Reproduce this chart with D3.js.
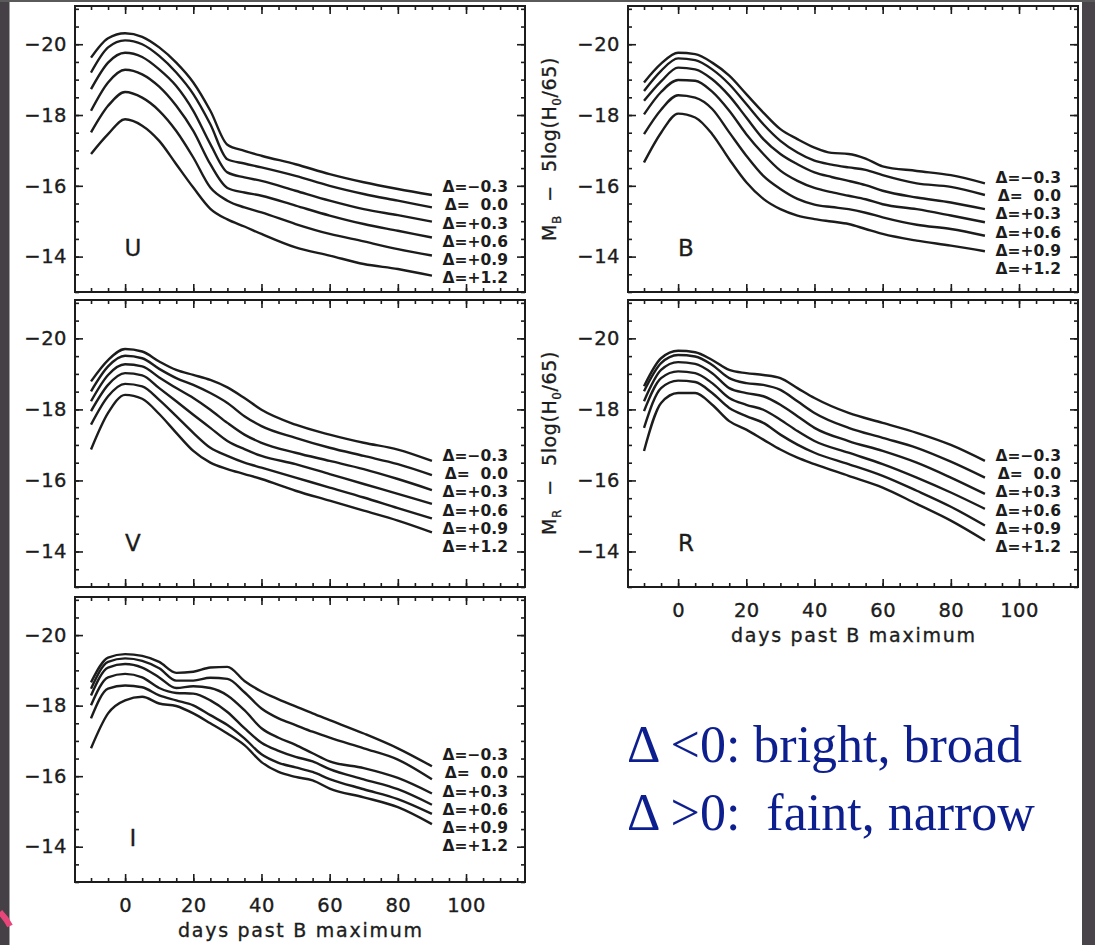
<!DOCTYPE html>
<html><head><meta charset="utf-8">
<script src="https://cdn.jsdelivr.net/npm/d3@7"></script>
<style>
html,body{margin:0;padding:0;background:#fff;}
svg{display:block;}
text{white-space:pre;}
</style></head><body>
<svg id="c" width="1095" height="945"></svg>
<script>
// ---------------- DATA ----------------
const deltaLabels = ["Δ=−0.3", "Δ=  0.0", "Δ=+0.3", "Δ=+0.6", "Δ=+0.9", "Δ=+1.2"];
const xTickValues = [0, 20, 40, 60, 80, 100];
const yTickValues = [-20, -18, -16, -14];

const daysU = [-10, -5, 0, 5, 10, 15, 20, 25, 30, 35, 40, 50, 60, 70, 80, 90];
const magsU = [
  [-19.62, -20.17, -20.31, -20.21, -19.91, -19.48, -18.92, -18.12, -17.16, -16.99, -16.85, -16.61, -16.33, -16.10, -15.91, -15.74],
  [-19.20, -19.91, -20.11, -20.00, -19.67, -19.20, -18.59, -17.74, -16.75, -16.63, -16.52, -16.28, -16.00, -15.77, -15.58, -15.39],
  [-18.73, -19.48, -19.76, -19.64, -19.29, -18.82, -18.12, -17.18, -16.38, -16.24, -16.14, -15.86, -15.58, -15.34, -15.17, -14.99],
  [-18.12, -18.92, -19.28, -19.15, -18.80, -18.26, -17.55, -16.61, -15.94, -15.81, -15.72, -15.44, -15.16, -14.92, -14.73, -14.54],
  [-17.51, -18.26, -18.65, -18.49, -18.12, -17.55, -16.80, -15.95, -15.58, -15.39, -15.25, -14.92, -14.64, -14.43, -14.21, -14.03],
  [-16.90, -17.46, -17.88, -17.70, -17.27, -16.61, -15.95, -15.35, -15.05, -14.85, -14.64, -14.26, -14.03, -13.79, -13.65, -13.46]
];

const daysB = [-10, -5, 0, 5, 10, 15, 20, 25, 30, 35, 40, 45, 50, 55, 60, 70, 80, 90];
const magsB = [
  [-18.92, -19.45, -19.76, -19.72, -19.48, -19.11, -18.59, -18.07, -17.60, -17.32, -17.08, -16.93, -16.90, -16.77, -16.55, -16.42, -16.30, -16.07],
  [-18.68, -19.25, -19.60, -19.55, -19.29, -18.87, -18.31, -17.74, -17.27, -16.94, -16.71, -16.60, -16.52, -16.45, -16.30, -16.07, -15.97, -15.74],
  [-18.40, -18.95, -19.34, -19.29, -19.01, -18.54, -17.93, -17.32, -16.90, -16.61, -16.38, -16.25, -16.14, -16.02, -15.86, -15.67, -15.53, -15.34],
  [-18.02, -18.65, -18.99, -18.97, -18.66, -18.12, -17.46, -16.90, -16.43, -16.14, -15.94, -15.82, -15.72, -15.62, -15.48, -15.34, -15.16, -14.97],
  [-17.46, -18.15, -18.56, -18.49, -18.17, -17.51, -16.85, -16.28, -15.91, -15.63, -15.47, -15.40, -15.34, -15.24, -15.11, -14.90, -14.78, -14.59],
  [-16.66, -17.50, -18.04, -17.93, -17.46, -16.75, -16.10, -15.63, -15.34, -15.16, -15.06, -14.99, -14.92, -14.78, -14.64, -14.45, -14.31, -14.15]
];

const daysV = [-10, -5, 0, 5, 10, 15, 20, 25, 30, 35, 40, 50, 60, 70, 80, 90];
const magsV = [
  [-18.79, -19.39, -19.70, -19.63, -19.35, -19.11, -18.97, -18.83, -18.62, -18.32, -17.99, -17.57, -17.29, -17.06, -16.87, -16.55],
  [-18.51, -19.21, -19.51, -19.44, -19.14, -18.88, -18.69, -18.46, -18.18, -17.81, -17.53, -17.20, -16.92, -16.69, -16.46, -16.15],
  [-18.23, -18.97, -19.27, -19.21, -18.90, -18.60, -18.32, -17.99, -17.62, -17.29, -17.06, -16.78, -16.55, -16.32, -16.04, -15.73],
  [-17.95, -18.69, -19.02, -18.96, -18.60, -18.23, -17.85, -17.48, -17.11, -16.88, -16.69, -16.46, -16.18, -15.90, -15.62, -15.34],
  [-17.57, -18.37, -18.72, -18.65, -18.27, -17.81, -17.34, -16.92, -16.69, -16.50, -16.36, -16.08, -15.80, -15.52, -15.22, -14.93],
  [-16.87, -17.90, -18.41, -18.30, -17.87, -17.34, -16.83, -16.50, -16.32, -16.18, -16.04, -15.71, -15.43, -15.15, -14.87, -14.54]
];

const daysR = [-10, -5, 0, 5, 10, 15, 20, 25, 30, 35, 40, 50, 60, 70, 80, 90];
const magsR = [
  [-18.65, -19.44, -19.65, -19.61, -19.39, -19.11, -19.02, -18.97, -18.88, -18.60, -18.32, -17.90, -17.62, -17.34, -17.00, -16.55],
  [-18.51, -19.30, -19.53, -19.49, -19.25, -18.88, -18.74, -18.69, -18.55, -18.23, -17.90, -17.48, -17.20, -16.92, -16.53, -16.08],
  [-18.23, -19.11, -19.33, -19.28, -19.02, -18.60, -18.46, -18.37, -18.13, -17.81, -17.48, -17.11, -16.83, -16.50, -16.08, -15.62],
  [-17.95, -18.88, -19.07, -19.02, -18.74, -18.32, -18.13, -17.99, -17.71, -17.39, -17.11, -16.78, -16.46, -16.08, -15.66, -15.20],
  [-17.48, -18.60, -18.81, -18.77, -18.46, -18.04, -17.81, -17.62, -17.29, -17.01, -16.78, -16.46, -16.13, -15.71, -15.26, -14.73],
  [-16.83, -18.18, -18.46, -18.46, -18.13, -17.67, -17.43, -17.15, -16.87, -16.64, -16.46, -16.13, -15.80, -15.34, -14.87, -14.31]
];

const daysI = [-10, -5, 0, 5, 10, 15, 20, 25, 30, 35, 40, 45, 50, 55, 60, 70, 80, 90];
const magsI = [
  [-18.66, -19.36, -19.46, -19.41, -19.24, -18.93, -18.96, -19.08, -19.10, -18.70, -18.40, -18.18, -17.98, -17.78, -17.59, -17.21, -16.79, -16.28],
  [-18.48, -19.24, -19.34, -19.27, -19.06, -18.71, -18.71, -18.79, -18.76, -18.38, -17.92, -17.64, -17.45, -17.26, -17.09, -16.79, -16.47, -15.91],
  [-18.29, -19.08, -19.18, -19.08, -18.80, -18.50, -18.55, -18.50, -18.29, -17.87, -17.36, -17.09, -16.89, -16.65, -16.42, -16.23, -15.95, -15.51],
  [-18.01, -18.80, -18.90, -18.80, -18.50, -18.36, -18.34, -18.15, -17.82, -17.36, -16.95, -16.72, -16.55, -16.42, -16.20, -15.91, -15.63, -15.19],
  [-17.64, -18.48, -18.57, -18.52, -18.29, -18.15, -18.01, -17.73, -17.45, -17.07, -16.62, -16.38, -16.25, -16.12, -15.92, -15.63, -15.35, -14.93],
  [-16.79, -17.78, -18.15, -18.25, -18.06, -17.99, -17.78, -17.50, -17.21, -16.88, -16.40, -16.12, -15.98, -15.88, -15.65, -15.40, -15.12, -14.64]
];

const noteLines = ["Δ <0: bright, broad", "Δ >0:  faint, narrow"];
const xTitle = "days past B maximum";

// ---------------- DRAW ----------------
const svg = d3.select("#c");
svg.append("rect").attr("width", 1095).attr("height", 945).attr("fill", "#fff");
svg.append("rect").attr("x", 0).attr("y", 0).attr("width", 9.5).attr("height", 945).attr("fill", "#444045");
svg.append("rect").attr("x", 1082).attr("y", 0).attr("width", 13).attr("height", 945).attr("fill", "#48444a");
svg.append("rect").attr("x", 0).attr("y", 0).attr("width", 1095).attr("height", 2).attr("fill", "#5a5a5a");
svg.append("path").attr("d", "M0,912 Q6,918 10,926").attr("stroke", "#e8467a").attr("stroke-width", 6).attr("fill", "none");

const panels = [
  {band: "U", days: daysU, mags: magsU, x0: 75,  y0: 6,   y1: 292, labTop: -15.98, xLab: false, yTitle: false},
  {band: "B", days: daysB, mags: magsB, x0: 628, y0: 6,   y1: 292, labTop: -16.24, xLab: false, yTitle: true, sub: "B"},
  {band: "V", days: daysV, mags: magsV, x0: 75,  y0: 300, y1: 587, labTop: -16.71, xLab: false, yTitle: false},
  {band: "R", days: daysR, mags: magsR, x0: 628, y0: 300, y1: 587, labTop: -16.71, xLab: true,  yTitle: true, sub: "R"},
  {band: "I", days: daysI, mags: magsI, x0: 75,  y0: 597, y1: 882, labTop: -16.61, xLab: true,  yTitle: false}
];

const fontSans = "'DejaVu Sans', Verdana, sans-serif";
const ink = "#1c1c1c";

panels.forEach(p => {
  const W = 450;
  const x = d3.scaleLinear().domain([-14.7, 117.3]).range([p.x0, p.x0 + W]);
  const y = d3.scaleLinear().domain([-13, -21.08]).range([p.y1, p.y0]);
  const g = svg.append("g");

  const styleAxis = sel => {
    sel.select(".domain").remove();
    sel.selectAll(".tick line").attr("stroke", ink).attr("stroke-width", 1.6);
    sel.selectAll("text").attr("fill", ink).attr("font-family", fontSans)
      .attr("font-size", 19.5).attr("letter-spacing", "0.5px")
      .attr("stroke", ink).attr("stroke-width", 0.35);
  };
  const xMinor = d3.range(-10, 116, 5);
  const yMinor = d3.range(-21, -12.9, 0.5);

  // minor ticks
  g.append("g").attr("transform", `translate(0,${p.y1})`).call(d3.axisBottom(x).tickValues(xMinor).tickSize(-4).tickFormat("")).call(styleAxis);
  g.append("g").attr("transform", `translate(0,${p.y0})`).call(d3.axisTop(x).tickValues(xMinor).tickSize(-4).tickFormat("")).call(styleAxis);
  g.append("g").attr("transform", `translate(${p.x0},0)`).call(d3.axisLeft(y).tickValues(yMinor).tickSize(-4).tickFormat("")).call(styleAxis);
  g.append("g").attr("transform", `translate(${p.x0 + W},0)`).call(d3.axisRight(y).tickValues(yMinor).tickSize(-4).tickFormat("")).call(styleAxis);
  // major ticks
  g.append("g").attr("transform", `translate(0,${p.y1})`)
    .call(d3.axisBottom(x).tickValues(xTickValues).tickSize(-8).tickPadding(16).tickFormat(p.xLab ? d3.format("d") : ""))
    .call(styleAxis);
  g.append("g").attr("transform", `translate(0,${p.y0})`).call(d3.axisTop(x).tickValues(xTickValues).tickSize(-8).tickFormat("")).call(styleAxis);
  g.append("g").attr("transform", `translate(${p.x0},0)`)
    .call(d3.axisLeft(y).tickValues(yTickValues).tickSize(-8).tickPadding(8).tickFormat(d3.format("d")))
    .call(styleAxis);
  g.append("g").attr("transform", `translate(${p.x0 + W},0)`).call(d3.axisRight(y).tickValues(yTickValues).tickSize(-8).tickFormat("")).call(styleAxis);

  // frame
  g.append("rect").attr("x", p.x0).attr("y", p.y0).attr("width", W).attr("height", p.y1 - p.y0)
    .attr("fill", "none").attr("stroke", ink).attr("stroke-width", 2);

  // curves
  const line = d3.line().x((d, i) => x(p.days[i])).y(d => y(d)).curve(d3.curveMonotoneX);
  g.selectAll("path.curve").data(p.mags).join("path").attr("class", "curve")
    .attr("d", line).attr("fill", "none").attr("stroke", ink).attr("stroke-width", 2.4)
    .attr("stroke-linejoin", "round");

  // delta labels
  g.selectAll("text.dl").data(deltaLabels).join("text").attr("class", "dl")
    .attr("x", x(112.3)).attr("y", (d, i) => y(p.labTop + i * 0.515)).attr("dy", "0.36em")
    .attr("text-anchor", "end").attr("font-family", fontSans).attr("font-size", 15.5)
    .attr("font-weight", "bold").attr("fill", ink).text(d => d);

  // band letter
  g.append("text").attr("x", x(2.3)).attr("y", y(-14.25)).attr("dy", "0.36em")
    .attr("text-anchor", "middle").attr("font-family", fontSans).attr("font-size", 23)
    .attr("fill", ink).attr("stroke", ink).attr("stroke-width", 0.3).text(p.band);

  if (p.xLab) {
    g.append("text").attr("x", p.x0 + W / 2).attr("y", p.y1 + 55).attr("text-anchor", "middle")
      .attr("font-family", fontSans).attr("font-size", 19).attr("fill", ink)
      .attr("stroke", ink).attr("stroke-width", 0.35)
      .attr("textLength", 244).attr("lengthAdjust", "spacing").text(xTitle);
  }
  if (p.yTitle) {
    const t = g.append("text").attr("transform", `translate(${p.x0 - 72},${p.y0 + 143}) rotate(-90)`)
      .attr("text-anchor", "middle").attr("font-family", fontSans).attr("font-size", 19)
      .attr("letter-spacing", "0.6px").attr("fill", ink).attr("stroke", ink).attr("stroke-width", 0.3);
    t.append("tspan").text("M");
    t.append("tspan").attr("dy", 5).attr("font-size", 12).text(p.sub);
    t.append("tspan").attr("dy", -5).text("  −  5log(H");
    t.append("tspan").attr("dy", 5).attr("font-size", 12).text("0");
    t.append("tspan").attr("dy", -5).text("/65)");
  }
});

// blue note
svg.selectAll("text.note").data(noteLines).join("text").attr("class", "note")
  .attr("x", 627).attr("y", (d, i) => 762 + i * 68)
  .attr("font-family", "'Liberation Serif', 'Times New Roman', Times, serif")
  .attr("font-size", 52).attr("fill", "#0d1f8f").text(d => d);
</script>
</body></html>
